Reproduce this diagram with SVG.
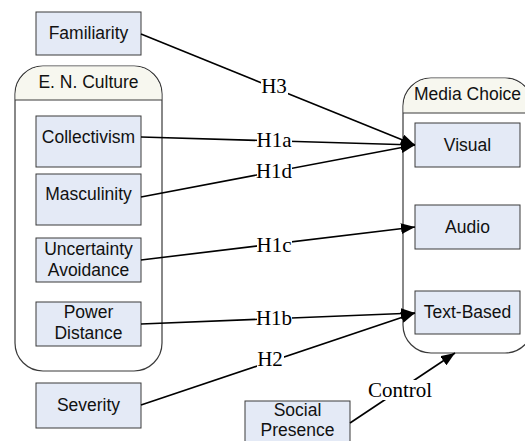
<svg xmlns="http://www.w3.org/2000/svg" width="525" height="441" viewBox="0 0 525 441">
<defs>
<style>
.box{fill:#E4EAF6;stroke:#3a3a3a;stroke-width:1}
.cont{fill:#FFFFFF;stroke:#3a3a3a;stroke-width:1.2}
.hdr{fill:#F7F7EF;stroke:none}
.sep{stroke:#3a3a3a;stroke-width:1}
.t{font-family:"Liberation Sans",Arial,sans-serif;font-size:17.5px;fill:#111;text-anchor:middle}
.lbl{font-family:"Liberation Serif","Times New Roman",serif;font-size:21px;fill:#000;text-anchor:middle}
.ln{stroke:#000;stroke-width:1.6;fill:none;marker-end:url(#arr)}
.bg{fill:#FFFFFF}
</style>
<marker id="arr" markerUnits="userSpaceOnUse" markerWidth="15" markerHeight="11" refX="14" refY="5.5" orient="auto">
<path d="M0,0 L14,5.5 L0,11 Z" fill="#000"/>
</marker>
</defs>
<rect width="525" height="441" fill="#FFFFFF"/>

<g id="en-culture">
<rect class="cont" x="15" y="66" width="147" height="305" rx="28" ry="28"/>
<path class="hdr" d="M15.6,100 L15.6,94 A28,28 0 0 1 43,66.6 L134,66.6 A28,28 0 0 1 161.4,94 L161.4,100 Z"/>
<line class="sep" x1="15" y1="100" x2="162" y2="100"/>
<text class="t" x="88.5" y="88">E. N. Culture</text>
</g>

<g id="media-choice">
<rect class="cont" x="403" y="78" width="130" height="275" rx="28" ry="28"/>
<path class="hdr" d="M403.6,113 L403.6,106 A28,28 0 0 1 431,78.6 L505,78.6 A28,28 0 0 1 532.4,106 L532.4,113 Z"/>
<line class="sep" x1="403" y1="113" x2="533" y2="113"/>
<text class="t" x="467.5" y="100">Media Choice</text>
</g>

<g id="familiarity">
<rect class="box" x="36" y="12" width="105" height="43"/>
<text class="t" x="88.5" y="39">Familiarity</text>
</g>
<g id="collectivism">
<rect class="box" x="36" y="116" width="105" height="51"/>
<text class="t" x="88.5" y="143">Collectivism</text>
</g>
<g id="masculinity">
<rect class="box" x="36" y="174" width="105" height="51"/>
<text class="t" x="88.5" y="200">Masculinity</text>
</g>
<g id="uncertainty-avoidance">
<rect class="box" x="36" y="238" width="105" height="44"/>
<text class="t" x="88.5" y="255">Uncertainty</text>
<text class="t" x="88.5" y="276">Avoidance</text>
</g>
<g id="power-distance">
<rect class="box" x="36" y="302" width="105" height="44"/>
<text class="t" x="88.5" y="318">Power</text>
<text class="t" x="88.5" y="339">Distance</text>
</g>
<g id="severity">
<rect class="box" x="36" y="383" width="105" height="45"/>
<text class="t" x="88.5" y="411">Severity</text>
</g>
<g id="social-presence">
<rect class="box" x="245" y="401" width="105" height="44"/>
<text class="t" x="297.5" y="416">Social</text>
<text class="t" x="297.5" y="436">Presence</text>
</g>
<g id="visual">
<rect class="box" x="415" y="123" width="105" height="44"/>
<text class="t" x="467.5" y="151">Visual</text>
</g>
<g id="audio">
<rect class="box" x="415" y="205" width="105" height="44"/>
<text class="t" x="467.5" y="233">Audio</text>
</g>
<g id="text-based">
<rect class="box" x="415" y="291" width="105" height="43"/>
<text class="t" x="467.5" y="318">Text-Based</text>
</g>

<g id="connectors">
<line class="ln" x1="141" y1="34" x2="415" y2="145"/>
<line class="ln" x1="141" y1="137" x2="415" y2="145"/>
<line class="ln" x1="141" y1="197" x2="415" y2="145"/>
<line class="ln" x1="141" y1="260" x2="415" y2="227"/>
<line class="ln" x1="141" y1="324" x2="415" y2="313"/>
<line class="ln" x1="141" y1="405" x2="415" y2="313"/>
<line class="ln" x1="350" y1="423" x2="455" y2="353"/>
<rect class="bg" x="261" y="80" width="27" height="15"/>
<text class="lbl" x="274" y="93">H3</text>
<rect class="bg" x="257" y="133" width="35" height="15"/>
<text class="lbl" x="274" y="147">H1a</text>
<rect class="bg" x="257" y="164" width="35" height="15"/>
<text class="lbl" x="274" y="178">H1d</text>
<rect class="bg" x="257" y="237" width="35" height="16"/>
<text class="lbl" x="274" y="252">H1c</text>
<rect class="bg" x="257" y="310" width="35" height="16"/>
<text class="lbl" x="274" y="325">H1b</text>
<rect class="bg" x="257" y="352" width="27" height="15"/>
<text class="lbl" x="270" y="366">H2</text>
<rect class="bg" x="366" y="380" width="68" height="20"/>
<text class="lbl" x="400" y="397">Control</text>
</g>
</svg>
